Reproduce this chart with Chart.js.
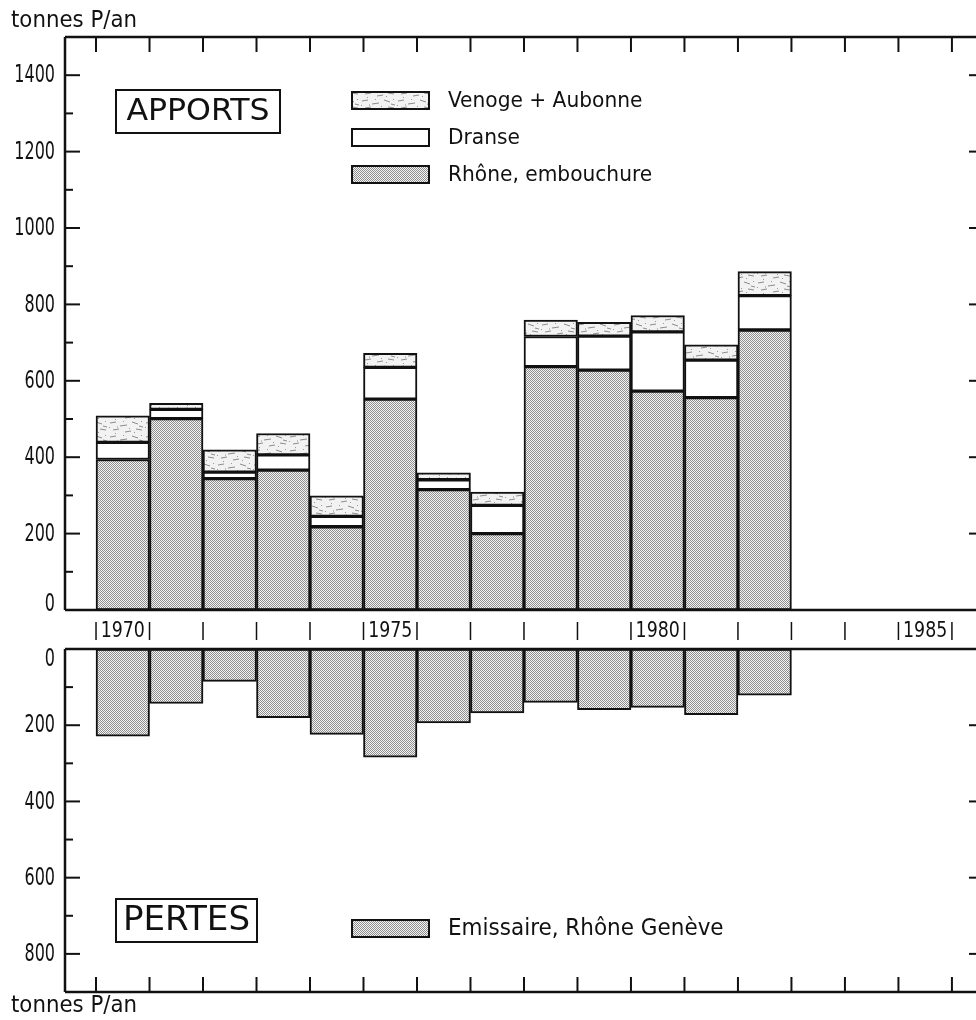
<!DOCTYPE html>
<html>
<head>
<meta charset="utf-8">
<script src="https://cdn.jsdelivr.net/npm/chart.js@4"></script>
<style>
html, body { margin: 0; padding: 0; background: #fff; }
#wrap { position: relative; width: 976px; height: 1020px; }
canvas { position: absolute; left: 0; top: 0; }
</style>
</head>
<body>
<div id="wrap">
  <canvas id="apports" width="976" height="1020"></canvas>
  <canvas id="pertes" width="976" height="1020"></canvas>
</div>
<script>
// tonnes P/an
var years = [1970, 1971, 1972, 1973, 1974, 1975, 1976, 1977, 1978, 1979, 1980, 1981, 1982];
var rhone = [394, 501, 344, 366, 218, 552, 315, 200, 637, 628, 573, 556, 733];
var dranse = [45, 24, 17, 40, 27, 83, 26, 74, 79, 89, 155, 98, 90];
var venoge = [69, 16, 58, 56, 54, 37, 18, 35, 43, 36, 43, 40, 63];
var emissaire = [229, 143, 85, 180, 224, 284, 194, 168, 140, 159, 153, 172, 121];
var yearLabels = [1970, 1975, 1980, 1985];
var apportsLabels = [0, 200, 400, 600, 800, 1000, 1200, 1400];
var pertesLabels = [0, 200, 400, 600, 800];

var FONT = "'DejaVu Sans Condensed', 'DejaVu Sans', sans-serif";
var INK = '#111';

function dotPattern() {
  var c = document.createElement('canvas');
  c.width = 4; c.height = 4;
  var g = c.getContext('2d');
  g.fillStyle = '#f4f4f4';
  g.fillRect(0, 0, 4, 4);
  g.fillStyle = '#8e8e8e';
  for (var i = 0; i < 4; i++) {
    for (var j = 0; j < 4; j++) {
      if ((i + j) % 2 === 0) g.fillRect(i, j, 1, 1);
    }
  }
  return g.createPattern(c, 'repeat');
}

function streakPattern() {
  var c = document.createElement('canvas');
  c.width = 36; c.height = 14;
  var g = c.getContext('2d');
  g.fillStyle = '#f2f2f2';
  g.fillRect(0, 0, 36, 14);
  g.strokeStyle = '#8c8c8c';
  g.lineWidth = 1;
  var strokes = [[2, 3, 8, 2], [12, 6, 19, 5], [24, 2, 30, 4], [5, 10, 11, 9],
                 [17, 12, 23, 11], [28, 9, 34, 10], [31, 6, 35, 7], [9, 7, 10, 7]];
  strokes.forEach(function (s) {
    g.beginPath(); g.moveTo(s[0], s[1]); g.lineTo(s[2], s[3]); g.stroke();
  });
  g.fillStyle = '#9a9a9a';
  [[1, 7], [15, 1], [21, 8], [33, 1], [26, 12], [7, 13]].forEach(function (d) {
    g.fillRect(d[0], d[1], 1, 1);
  });
  return g.createPattern(c, 'repeat');
}

var dots = dotPattern();
var streaks = streakPattern();

function pts(vals) {
  return years.map(function (yr, i) { return { x: yr + 0.5, y: vals[i] }; });
}

function line(ctx, x1, y1, x2, y2) {
  ctx.beginPath(); ctx.moveTo(x1, y1); ctx.lineTo(x2, y2); ctx.stroke();
}

// text with a horizontal stretch factor (the original lettering is a plotter font)
function text(ctx, s, x, y, size, sx, align) {
  ctx.save();
  ctx.font = size + 'px ' + FONT;
  ctx.textAlign = align || 'left';
  ctx.textBaseline = 'middle';
  ctx.translate(x, y);
  ctx.scale(sx, 1);
  ctx.fillText(s, 0, 0);
  ctx.restore();
}

function titleBox(ctx, s, x, y, w, h, size, sx) {
  ctx.lineWidth = 2;
  ctx.strokeRect(x, y, w, h);
  text(ctx, s, x + w / 2, y + h / 2 + 1, size, sx, 'center');
}

function legendRows(ctx, items, y0, gap, size, sx) {
  items.forEach(function (ds, i) {
    var y = y0 + i * gap;
    ctx.fillStyle = ds.backgroundColor;
    ctx.fillRect(352, y, 77, 17);
    ctx.lineWidth = 2;
    ctx.strokeRect(352, y, 77, 17);
    ctx.fillStyle = INK;
    text(ctx, ds.label, 448, y + 9, size, sx);
  });
}

function yearTicks(ctx, xs, yA, yB) {
  for (var yr = Math.ceil(xs.min); yr <= xs.max; yr++) {
    var px = xs.getPixelForValue(yr);
    line(ctx, px, yA, px, yB);
  }
}

function sideTicks(ctx, ys, a, labels, zeroShift) {
  ys.ticks.forEach(function (t) {
    var py = ys.getPixelForValue(t.value);
    if (labels.indexOf(t.value) >= 0) {
      text(ctx, String(t.value), 55, py + (t.value === 0 ? zeroShift : 1), 24, 0.74, 'right');
    }
    if (t.value === ys.min || t.value === ys.max) return;
    var major = t.value % 200 === 0;
    line(ctx, a.left, py, a.left + (major ? 15 : 8), py);
    if (major) line(ctx, a.right - 7, py, a.right, py);
  });
}

function frame(ctx, a) {
  ctx.lineWidth = 2.5;
  line(ctx, a.left, a.top, a.left, a.bottom);
  line(ctx, a.left, a.top, a.right, a.top);
  line(ctx, a.left, a.bottom, a.right, a.bottom);
  ctx.lineWidth = 2;
}

var apportsFrame = {
  id: 'apportsFrame',
  afterDraw: function (chart) {
    var ctx = chart.ctx, a = chart.chartArea;
    var xs = chart.scales.x, ys = chart.scales.y;
    ctx.save();
    ctx.strokeStyle = INK;
    ctx.fillStyle = INK;
    frame(ctx, a);
    sideTicks(ctx, ys, a, apportsLabels, -5);
    yearTicks(ctx, xs, a.top, a.top + 15);

    // year strip between the two panels
    ctx.lineWidth = 1.5;
    yearTicks(ctx, xs, a.bottom + 12, a.bottom + 30);
    yearLabels.forEach(function (yr) {
      text(ctx, String(yr), xs.getPixelForValue(yr + 0.5), a.bottom + 22, 21, 0.92, 'center');
    });

    text(ctx, 'tonnes P/an', 11, 21, 23, 1.03);
    titleBox(ctx, 'APPORTS', 116, 90, 164, 43, 30, 1.17);
    legendRows(ctx, chart.data.datasets.slice().reverse(), 92, 37, 22, 1.02);
    ctx.restore();
  }
};

var pertesFrame = {
  id: 'pertesFrame',
  afterDraw: function (chart) {
    var ctx = chart.ctx, a = chart.chartArea;
    var xs = chart.scales.x, ys = chart.scales.y;
    ctx.save();
    ctx.strokeStyle = INK;
    ctx.fillStyle = INK;
    frame(ctx, a);
    sideTicks(ctx, ys, a, pertesLabels, 11);
    yearTicks(ctx, xs, a.bottom - 15, a.bottom);

    text(ctx, 'tonnes P/an', 11, 1006, 23, 1.03);
    titleBox(ctx, 'PERTES', 116, 899, 141, 43, 33, 1.15);
    legendRows(ctx, chart.data.datasets, 920, 37, 23, 1.04);
    ctx.restore();
  }
};

function xScale() {
  return { type: 'linear', min: 1969.42, max: 1986.45, offset: false, stacked: true, display: false };
}

function yScale(max, reverse) {
  return {
    min: 0, max: max, reverse: reverse, stacked: true,
    afterFit: function (s) { s.width = 65; },
    grid: { display: false },
    border: { display: false },
    ticks: { stepSize: 100, display: false }
  };
}

var barStyle = { borderColor: INK, borderWidth: 2, borderSkipped: false,
                 barPercentage: 1, categoryPercentage: 1 };

new Chart(document.getElementById('apports'), {
  type: 'bar',
  data: {
    datasets: [
      Object.assign({ label: 'Rhône, embouchure', data: pts(rhone), backgroundColor: dots }, barStyle),
      Object.assign({ label: 'Dranse', data: pts(dranse), backgroundColor: '#ffffff' }, barStyle),
      Object.assign({ label: 'Venoge + Aubonne', data: pts(venoge), backgroundColor: streaks }, barStyle)
    ]
  },
  options: {
    responsive: false,
    animation: false,
    layout: { padding: { top: 37, bottom: 410, left: 0, right: 0 } },
    plugins: { legend: { display: false }, tooltip: { enabled: false } },
    scales: { x: xScale(), y: yScale(1500, false) }
  },
  plugins: [apportsFrame]
});

new Chart(document.getElementById('pertes'), {
  type: 'bar',
  data: {
    datasets: [
      Object.assign({ label: 'Emissaire, Rhône Genève', data: pts(emissaire), backgroundColor: dots }, barStyle)
    ]
  },
  options: {
    responsive: false,
    animation: false,
    layout: { padding: { top: 649, bottom: 28, left: 0, right: 0 } },
    plugins: { legend: { display: false }, tooltip: { enabled: false } },
    scales: { x: xScale(), y: yScale(900, true) }
  },
  plugins: [pertesFrame]
});
</script>
</body>
</html>
